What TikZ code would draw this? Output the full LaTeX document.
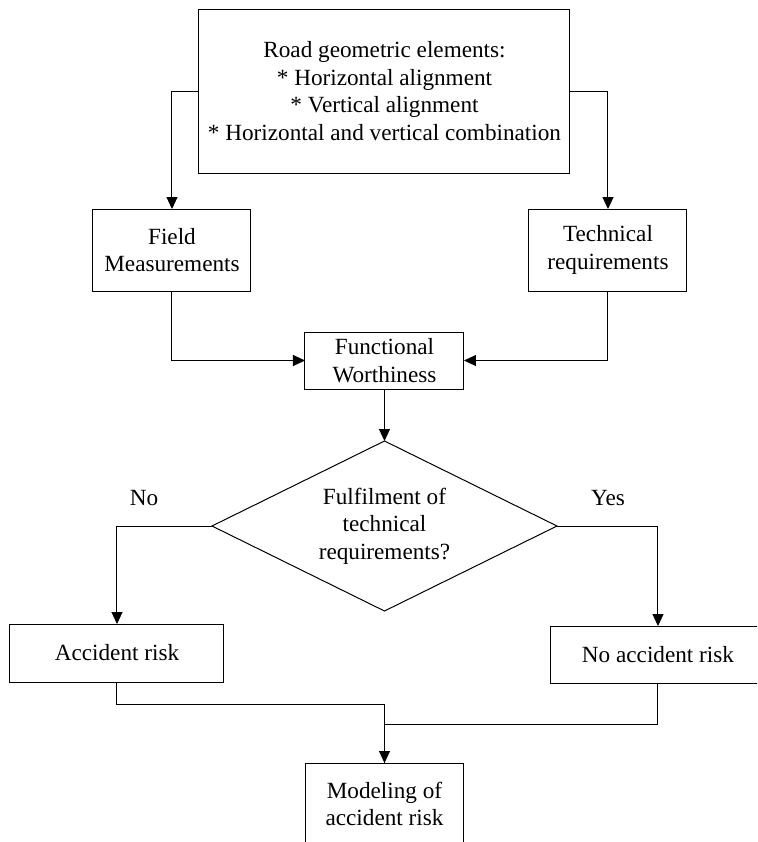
\documentclass[tikz,border=0pt]{standalone}
\usepackage{fontspec}
\setmainfont{Liberation Serif}
\usepackage{tikz}
\usetikzlibrary{arrows.meta,positioning,shapes.geometric,calc}

\begin{document}
\begin{tikzpicture}[
    every node/.style={font=\fontsize{11.6}{13.85}\selectfont},
    box/.style={rectangle, draw, minimum width=79pt, minimum height=41pt, align=center, inner sep=2pt, outer sep=0pt},
    decision/.style={diamond, draw, minimum width=172.5pt, minimum height=85pt, aspect=2.03, align=center, inner sep=0pt, outer sep=0pt},
    arrow/.style={-{Triangle[length=6pt,width=5.5pt]}},
    line width=0.5pt
]
\clip (-192.25pt,45.5pt) rectangle (186.25pt,-375.5pt);

\node[box, minimum width=185.5pt, minimum height=82pt] (road) at (0,0) {Road geometric elements:\\* Horizontal alignment\\* Vertical alignment\\* Horizontal and vertical combination};
\node[box, below=18pt of road, xshift=-106.25pt] (field) {Field\\Measurements};
\node[box, below=18pt of road, xshift=111.75pt] (tech) {Technical\\requirements};
\node[box, minimum width=79.5pt, minimum height=28.5pt, below=79.5pt of road] (func) {Functional\\Worthiness};
\node[decision, below=26pt of func] (dec) {Fulfilment of\\technical\\requirements?};
\node[box, minimum width=107pt, minimum height=29pt, below=6.5pt of dec, xshift=-133.75pt] (acc) {Accident risk};
\node[box, minimum width=107pt, minimum height=28.5pt, below=7.5pt of dec, xshift=136.75pt] (noacc) {No accident risk};
\node[box, below=76pt of dec] (model) {Modeling of\\accident risk};

\node (no) at ($(dec.west)+(-34pt,14pt)$) {No};
\node (yes) at ($(dec.east)+(25.5pt,14pt)$) {Yes};

\draw[arrow] (road.west) -| (field.north);
\draw[arrow] (road.east) -| (tech.north);
\draw[arrow] (field.south) |- (func.west);
\draw[arrow] (tech.south) |- (func.east);
\draw[arrow] (func.south) -- (dec.north);
\draw[arrow] (dec.west) -| (acc.north);
\draw[arrow] (dec.east) -| (noacc.north);
\draw[arrow] (acc.south) -- ++(0,-11pt) -| (model.north);
\draw (noacc.south) -- ++(0,-20.5pt) -| (model.north);
\end{tikzpicture}
\end{document}
